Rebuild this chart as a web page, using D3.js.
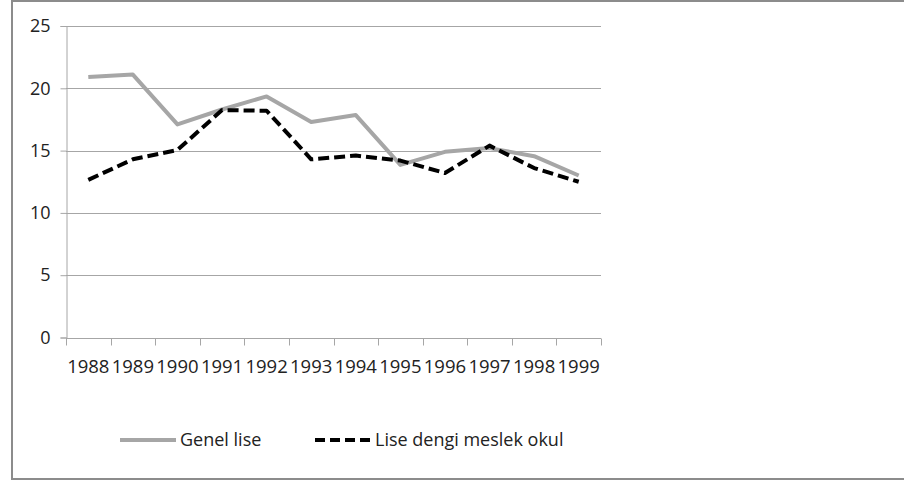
<!DOCTYPE html>
<html>
<head>
<meta charset="utf-8">
<script src="https://cdn.jsdelivr.net/npm/d3@7"></script>
<style>
  html, body { margin: 0; padding: 0; background: #fff; }
  svg { display: block; }
  text { font-family: "Open Sans", "Noto Sans", sans-serif; fill: #222; }
</style>
</head>
<body>
<svg id="chart" width="904" height="481"></svg>
<script>
// Years on the category axis
const years = ["1988","1989","1990","1991","1992","1993","1994","1995","1996","1997","1998","1999"];
// Series values
const genelLise = [20.9, 21.1, 17.1, 18.3, 19.35, 17.3, 17.85, 13.85, 14.9, 15.2, 14.55, 13.0];
const meslekOkul = [12.65, 14.3, 15.05, 18.25, 18.2, 14.3, 14.6, 14.2, 13.2, 15.4, 13.6, 12.5];
const seriesNames = ["Genel lise", "Lise dengi meslek okul"];
const yTicks = [0, 5, 10, 15, 20, 25];

const svg = d3.select("#chart");

// Outer frame (left, top, bottom edges)
const frame = svg.append("g").attr("stroke", "#8c8c8c").attr("stroke-width", 2).attr("fill", "none");
frame.append("path").attr("d", "M912,1 H12 V479 H912");

const plot = { left: 66, right: 601, top: 26, bottom: 337.5 };

const x = d3.scaleBand().domain(years).range([plot.left, plot.right]);
const y = d3.scaleLinear().domain([0, 25]).range([plot.bottom, plot.top]);

// Horizontal gridlines
svg.append("g")
  .selectAll("line")
  .data(yTicks.filter(d => d > 0))
  .join("line")
  .attr("x1", plot.left).attr("x2", plot.right)
  .attr("y1", d => Math.round(y(d)) + 0.5).attr("y2", d => Math.round(y(d)) + 0.5)
  .attr("stroke", "#a6a6a6").attr("stroke-width", 1);

// Y axis
const yAxis = svg.append("g")
  .attr("transform", `translate(${plot.left + 0.5},0)`)
  .call(d3.axisLeft(y).tickValues(yTicks).tickSize(6).tickPadding(10).tickFormat(d3.format("d")));
yAxis.select(".domain").attr("stroke", "#a6a6a6");
yAxis.selectAll(".tick line").attr("stroke", "#a6a6a6");
yAxis.selectAll(".tick text").style("font-size", "18px").attr("fill", "#222");

// X axis with tick marks at band boundaries
const xAxisG = svg.append("g").attr("transform", `translate(0,${Math.round(plot.bottom) + 0.5})`);
xAxisG.append("line")
  .attr("x1", plot.left).attr("x2", plot.right)
  .attr("stroke", "#a6a6a6");
const bounds = years.map(d => x(d)).concat([plot.right]);
xAxisG.selectAll("line.tk")
  .data(bounds)
  .join("line").attr("class", "tk")
  .attr("x1", d => Math.round(d) + 0.5).attr("x2", d => Math.round(d) + 0.5)
  .attr("y1", 0).attr("y2", 7)
  .attr("stroke", "#a6a6a6");
xAxisG.selectAll("text")
  .data(years)
  .join("text")
  .attr("x", d => x(d) + x.bandwidth() / 2)
  .attr("y", 34)
  .attr("text-anchor", "middle")
  .style("font-size", "18.5px")
  .text(d => d);

const line = d3.line()
  .x((d, i) => x(years[i]) + x.bandwidth() / 2)
  .y(d => y(d));

// Genel lise: solid gray
svg.append("path")
  .datum(genelLise)
  .attr("d", line)
  .attr("fill", "none")
  .attr("stroke", "#a6a6a6")
  .attr("stroke-width", 4)
  .attr("stroke-linejoin", "round");

// Lise dengi meslek okul: dashed black
svg.append("path")
  .datum(meslekOkul)
  .attr("d", line)
  .attr("fill", "none")
  .attr("stroke", "#000")
  .attr("stroke-width", 4)
  .attr("stroke-dasharray", "11,5")
  .attr("stroke-linejoin", "round");

// Legend
const legend = svg.append("g").attr("transform", "translate(0,440)");
legend.append("line")
  .attr("x1", 120).attr("x2", 176).attr("y1", 0).attr("y2", 0)
  .attr("stroke", "#a6a6a6").attr("stroke-width", 4);
legend.append("text")
  .attr("x", 180).attr("y", 6)
  .style("font-size", "18px")
  .text(seriesNames[0]);
legend.append("line")
  .attr("x1", 315).attr("x2", 371).attr("y1", 0).attr("y2", 0)
  .attr("stroke", "#000").attr("stroke-width", 4)
  .attr("stroke-dasharray", "10,5");
legend.append("text")
  .attr("x", 375).attr("y", 6)
  .style("font-size", "18px")
  .text(seriesNames[1]);
</script>
</body>
</html>
